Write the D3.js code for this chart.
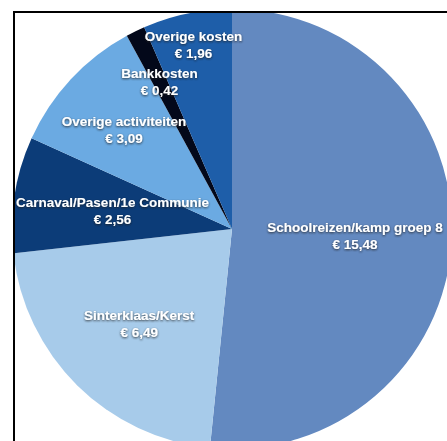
<!DOCTYPE html>
<html>
<head>
<meta charset="utf-8">
<script src="https://cdn.jsdelivr.net/npm/d3@7/dist/d3.min.js"></script>
<style>
  html, body { margin: 0; padding: 0; background: #fff; }
  svg { display: block; }
</style>
</head>
<body>
<script>
// ---- data ----
const categories = [
  "Schoolreizen/kamp groep 8",
  "Sinterklaas/Kerst",
  "Carnaval/Pasen/1e Communie",
  "Overige activiteiten",
  "Bankkosten",
  "Overige kosten"
];
const values = [15.48, 6.49, 2.56, 3.09, 0.42, 1.96];
const valueLabels = ["€ 15,48", "€ 6,49", "€ 2,56", "€ 3,09", "€ 0,42", "€ 1,96"];

// ---- styling / layout ----
const colors = ["#6389c0", "#a7cbea", "#0c3c78", "#6baae2", "#03081a", "#1e5ea9"];
const labelRadiusFactor = [0.56, 0.60, 0.55, 0.67, 0.75, 0.86];

const W = 447, H = 441;
const cx = 232, cy = 229, R = 220;

const svg = d3.select("body").append("svg")
  .attr("width", W).attr("height", H);

const defs = svg.append("defs");
const f = defs.append("filter").attr("id", "sh")
  .attr("x", "-10%").attr("y", "-30%").attr("width", "120%").attr("height", "160%");
f.append("feDropShadow").attr("dx", 0).attr("dy", 1).attr("stdDeviation", 0.9)
  .attr("flood-color", "#1a1a1a").attr("flood-opacity", 0.85);

defs.append("clipPath").attr("id", "frameClip")
  .append("rect").attr("x", 14).attr("y", 12).attr("width", W - 14).attr("height", H - 12);

const pie = d3.pie().sort(null).value(d => d)(values);
const arc = d3.arc().innerRadius(0).outerRadius(R);

const g = svg.append("g").attr("clip-path", "url(#frameClip)")
  .append("g").attr("transform", `translate(${cx},${cy})`);

g.selectAll("path.slice").data(pie).enter().append("path")
  .attr("class", "slice")
  .attr("d", arc)
  .attr("fill", (d, i) => colors[i]);

const lab = g.selectAll("g.lab").data(pie).enter().append("g")
  .attr("class", "lab")
  .attr("transform", (d, i) => {
    const r = R * labelRadiusFactor[i];
    const c = d3.arc().innerRadius(r).outerRadius(r).centroid(d);
    return `translate(${c[0]},${c[1]})`;
  })
  .attr("filter", "url(#sh)");

lab.append("text")
  .attr("text-anchor", "middle")
  .attr("y", -3)
  .attr("font-family", "Liberation Sans, Arial, sans-serif")
  .attr("font-weight", "bold")
  .attr("font-size", 13.5)
  .attr("fill", "#fff")
  .text((d, i) => categories[i]);

lab.append("text")
  .attr("text-anchor", "middle")
  .attr("y", 14)
  .attr("font-family", "Liberation Sans, Arial, sans-serif")
  .attr("font-weight", "bold")
  .attr("font-size", 13.5)
  .attr("fill", "#fff")
  .text((d, i) => valueLabels[i]);

// frame lines (top and left)
svg.append("line").attr("x1", 13).attr("x2", W).attr("y1", 12).attr("y2", 12)
  .attr("stroke", "#000").attr("stroke-width", 2);
svg.append("line").attr("x1", 14).attr("x2", 14).attr("y1", 11).attr("y2", H)
  .attr("stroke", "#000").attr("stroke-width", 2);
</script>
</body>
</html>
